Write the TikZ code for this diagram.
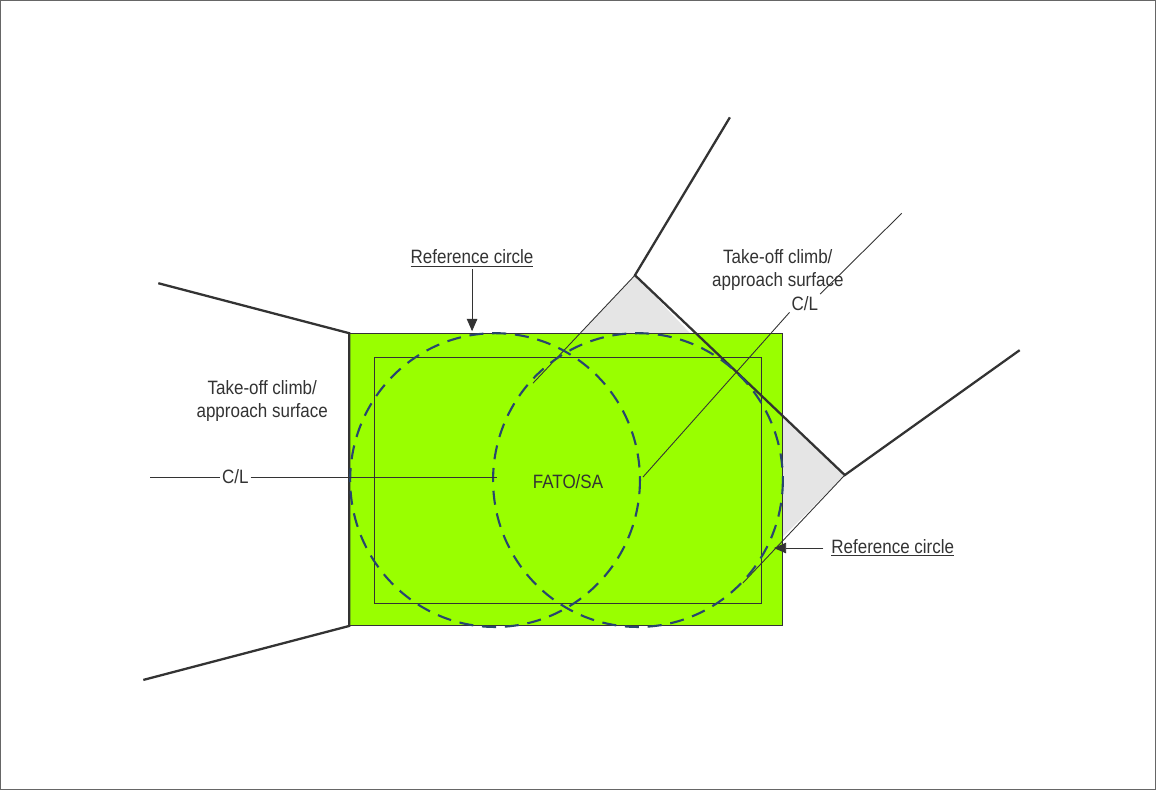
\documentclass[tikz,border=0pt]{standalone}
\usepackage{fontspec}
\setmainfont{Liberation Sans}[FakeStretch=0.88]
\usetikzlibrary{arrows.meta}
\begin{document}
\begin{tikzpicture}[x=0.02cm,y=-0.02cm,
  lbl/.style={font=\fontsize{11}{13}\selectfont,text=black!80,align=center,inner sep=1pt},
  thin line/.style={draw=black!80,line width=0.5pt},
  thick line/.style={draw=black!80,line width=1.3pt},
  refc/.style={draw={rgb,255:red,40;green,70;blue,110},dash pattern=on 8pt off 5pt,line width=1.2pt},
  arr/.style={-{Triangle[length=7pt,width=6pt]},draw=black!80,line width=0.5pt}]
\draw[draw=black!60,line width=0.5pt,fill=white] (0,0) rectangle (1156,790);
\useasboundingbox (0,0) rectangle (1156,790);
% gray splays
\fill[black!10] (635,275) -- (580,333) -- (690,333) -- cycle;
\fill[black!10] (845,475) -- (783,417) -- (783,537) -- cycle;
% FATO
\path[fill={rgb,255:red,153;green,255;blue,0},draw=black!80,line width=0.6pt] (349,333) rectangle (783,626);
\draw[thin line] (374,357) rectangle (762,603);
\coordinate (ta) at (635,275);
\coordinate (ra) at (845,475);
\draw[thin line] (ta) -- (533,383);
\draw[thin line] (ra) -- (743,583);
\draw[thick line] (730,117) -- (ta) -- (ra) -- (1020,350);
\draw[thick line] (158,283) -- (349,333) -- (349,626) -- (143,680);
% reference circles
\draw[refc] (495,480) ellipse (145 and 147);
\draw[refc] (638,480) ellipse (145 and 147);
% labels
\node[lbl] (fato) at (568,482) {FATO/SA};
\node[lbl] (tl) at (262,401) {Take-off climb/\\approach surface};
\node[lbl] (tr) at (778,270) {Take-off climb/\\approach surface};
\node[lbl] (cll) at (235,477) {C/L};
\draw[thin line] (150,477) -- (cll.west);
\draw[thin line] (cll.east) -- (497,477);
\node[lbl] (clr) at (805,303) {C/L};
\draw[thin line] (643,477) -- (clr.south west);
\draw[thin line] (clr.north east) -- (902,213);
\node[lbl] (rc1) at (472,258) {\underline{Reference circle}};
\coordinate (rc1t) at (472,331);
\draw[arr] (rc1.south) -- (rc1t);
\node[lbl] (rc2) at (893,548) {\underline{Reference circle}};
\coordinate (rc2t) at (774,548);
\draw[arr] (rc2.west) ++(-6,0) -- (rc2t);
\end{tikzpicture}
\end{document}
